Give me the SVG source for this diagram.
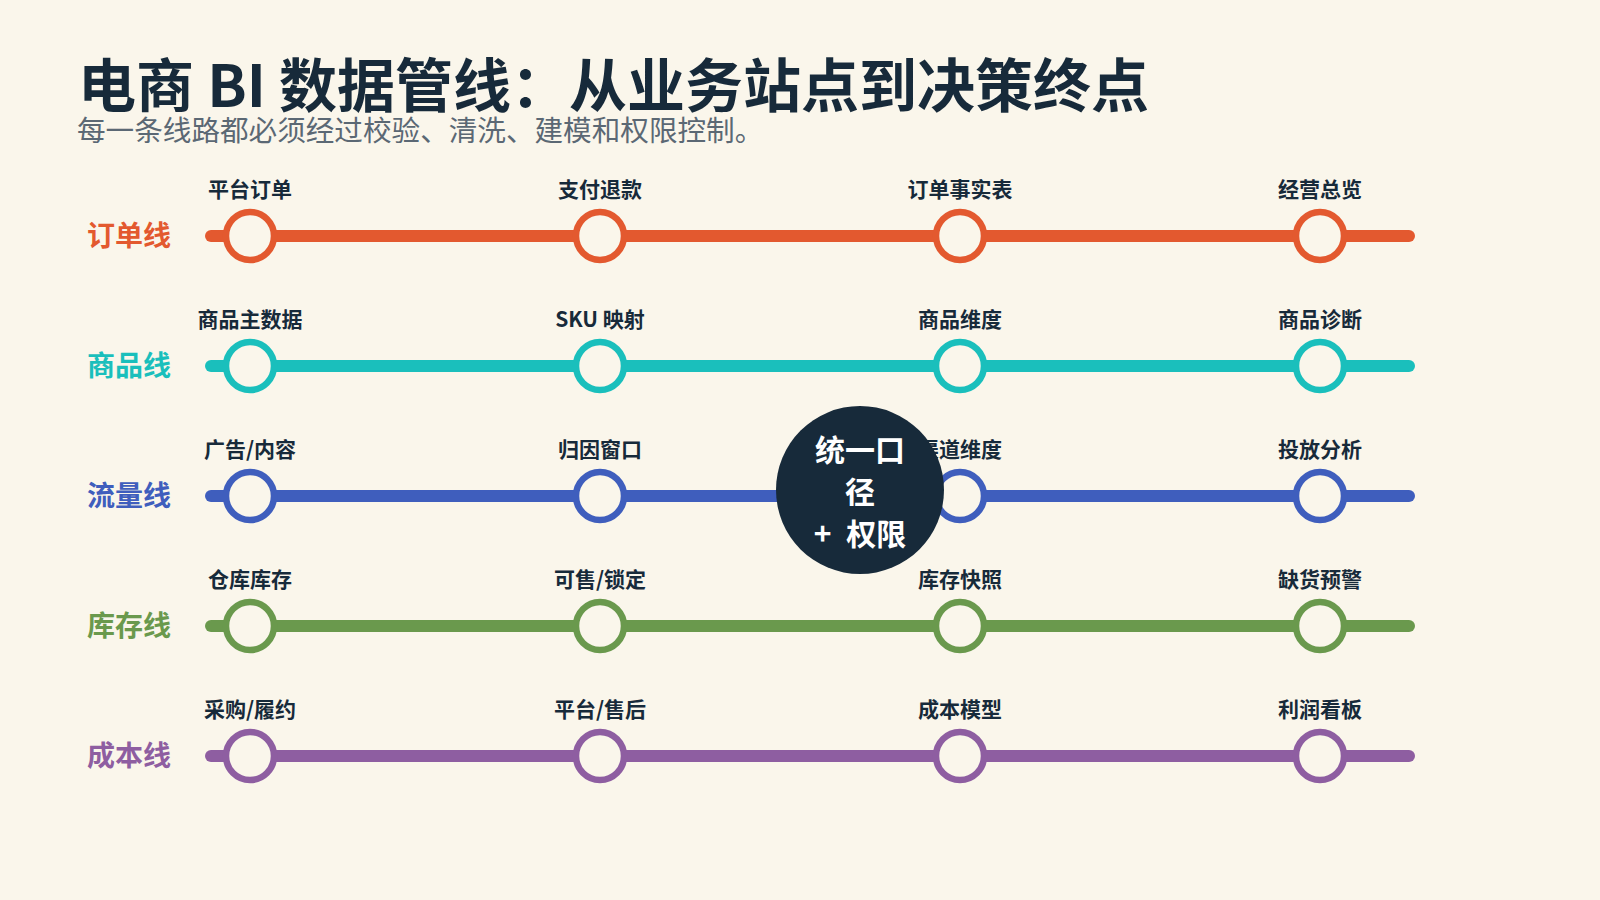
<svg xmlns="http://www.w3.org/2000/svg" width="1600" height="900" viewBox="0 0 1600 900">
<style>
text{font-family:"Noto Sans CJK SC","Noto Sans",sans-serif;font-weight:700}
.title{font-size:58px;fill:#172a3a}
.sub{font-size:28.6px;fill:#5b6874;font-weight:400}
.lname{font-size:28px;text-anchor:end}
.st{font-size:21px;fill:#172a3a;text-anchor:middle}
.line{stroke-width:12;stroke-linecap:round;fill:none}
.stn{fill:#faf6eb;stroke-width:6.5}
.hub-t{font-size:30px;fill:#ffffff;text-anchor:middle}
.c1{stroke:#e3592f}.f1{fill:#e3592f}
.c2{stroke:#1abfbc}.f2{fill:#1abfbc}
.c3{stroke:#3f5ebd}.f3{fill:#3f5ebd}
.c4{stroke:#6a994d}.f4{fill:#6a994d}
.c5{stroke:#8e5ea1}.f5{fill:#8e5ea1}
</style>
<rect width="1600" height="900" fill="#faf6eb"/>
<g id="header">
<text class="title" x="78" y="107">电商 BI 数据管线：从业务站点到决策终点</text>
<text class="sub" x="77" y="141">每一条线路都必须经过校验、清洗、建模和权限控制。</text>
</g>
<g id="connectors">
<line class="line c1" x1="211" y1="236" x2="1409" y2="236"/>
<line class="line c2" x1="211" y1="366" x2="1409" y2="366"/>
<line class="line c3" x1="211" y1="496" x2="1409" y2="496"/>
<line class="line c4" x1="211" y1="626" x2="1409" y2="626"/>
<line class="line c5" x1="211" y1="756" x2="1409" y2="756"/>
</g>
<g id="line-order">
<text class="lname f1" x="171" y="246">订单线</text>
<g id="s-1-1"><circle class="stn c1" cx="250" cy="236" r="24"/><text class="st" x="250" y="197">平台订单</text></g>
<g id="s-1-2"><circle class="stn c1" cx="600" cy="236" r="24"/><text class="st" x="600" y="197">支付退款</text></g>
<g id="s-1-3"><circle class="stn c1" cx="960" cy="236" r="24"/><text class="st" x="960" y="197">订单事实表</text></g>
<g id="s-1-4"><circle class="stn c1" cx="1320" cy="236" r="24"/><text class="st" x="1320" y="197">经营总览</text></g>
</g>
<g id="line-product">
<text class="lname f2" x="171" y="376">商品线</text>
<g id="s-2-1"><circle class="stn c2" cx="250" cy="366" r="24"/><text class="st" x="250" y="327">商品主数据</text></g>
<g id="s-2-2"><circle class="stn c2" cx="600" cy="366" r="24"/><text class="st" x="600" y="327">SKU 映射</text></g>
<g id="s-2-3"><circle class="stn c2" cx="960" cy="366" r="24"/><text class="st" x="960" y="327">商品维度</text></g>
<g id="s-2-4"><circle class="stn c2" cx="1320" cy="366" r="24"/><text class="st" x="1320" y="327">商品诊断</text></g>
</g>
<g id="line-traffic">
<text class="lname f3" x="171" y="506">流量线</text>
<g id="s-3-1"><circle class="stn c3" cx="250" cy="496" r="24"/><text class="st" x="250" y="457">广告/内容</text></g>
<g id="s-3-2"><circle class="stn c3" cx="600" cy="496" r="24"/><text class="st" x="600" y="457">归因窗口</text></g>
<g id="s-3-3"><circle class="stn c3" cx="960" cy="496" r="24"/><text class="st" x="960" y="457">渠道维度</text></g>
<g id="s-3-4"><circle class="stn c3" cx="1320" cy="496" r="24"/><text class="st" x="1320" y="457">投放分析</text></g>
</g>
<g id="line-inventory">
<text class="lname f4" x="171" y="636">库存线</text>
<g id="s-4-1"><circle class="stn c4" cx="250" cy="626" r="24"/><text class="st" x="250" y="587">仓库库存</text></g>
<g id="s-4-2"><circle class="stn c4" cx="600" cy="626" r="24"/><text class="st" x="600" y="587">可售/锁定</text></g>
<g id="s-4-3"><circle class="stn c4" cx="960" cy="626" r="24"/><text class="st" x="960" y="587">库存快照</text></g>
<g id="s-4-4"><circle class="stn c4" cx="1320" cy="626" r="24"/><text class="st" x="1320" y="587">缺货预警</text></g>
</g>
<g id="line-cost">
<text class="lname f5" x="171" y="766">成本线</text>
<g id="s-5-1"><circle class="stn c5" cx="250" cy="756" r="24"/><text class="st" x="250" y="717">采购/履约</text></g>
<g id="s-5-2"><circle class="stn c5" cx="600" cy="756" r="24"/><text class="st" x="600" y="717">平台/售后</text></g>
<g id="s-5-3"><circle class="stn c5" cx="960" cy="756" r="24"/><text class="st" x="960" y="717">成本模型</text></g>
<g id="s-5-4"><circle class="stn c5" cx="1320" cy="756" r="24"/><text class="st" x="1320" y="717">利润看板</text></g>
</g>
<g id="hub">
<circle cx="860" cy="490" r="84" fill="#172a3a"/>
<text class="hub-t" x="860" y="461">统一口</text>
<text class="hub-t" x="860" y="503">径</text>
<text class="hub-t" x="860" y="545">+&#8194;权限</text>
</g>
</svg>
